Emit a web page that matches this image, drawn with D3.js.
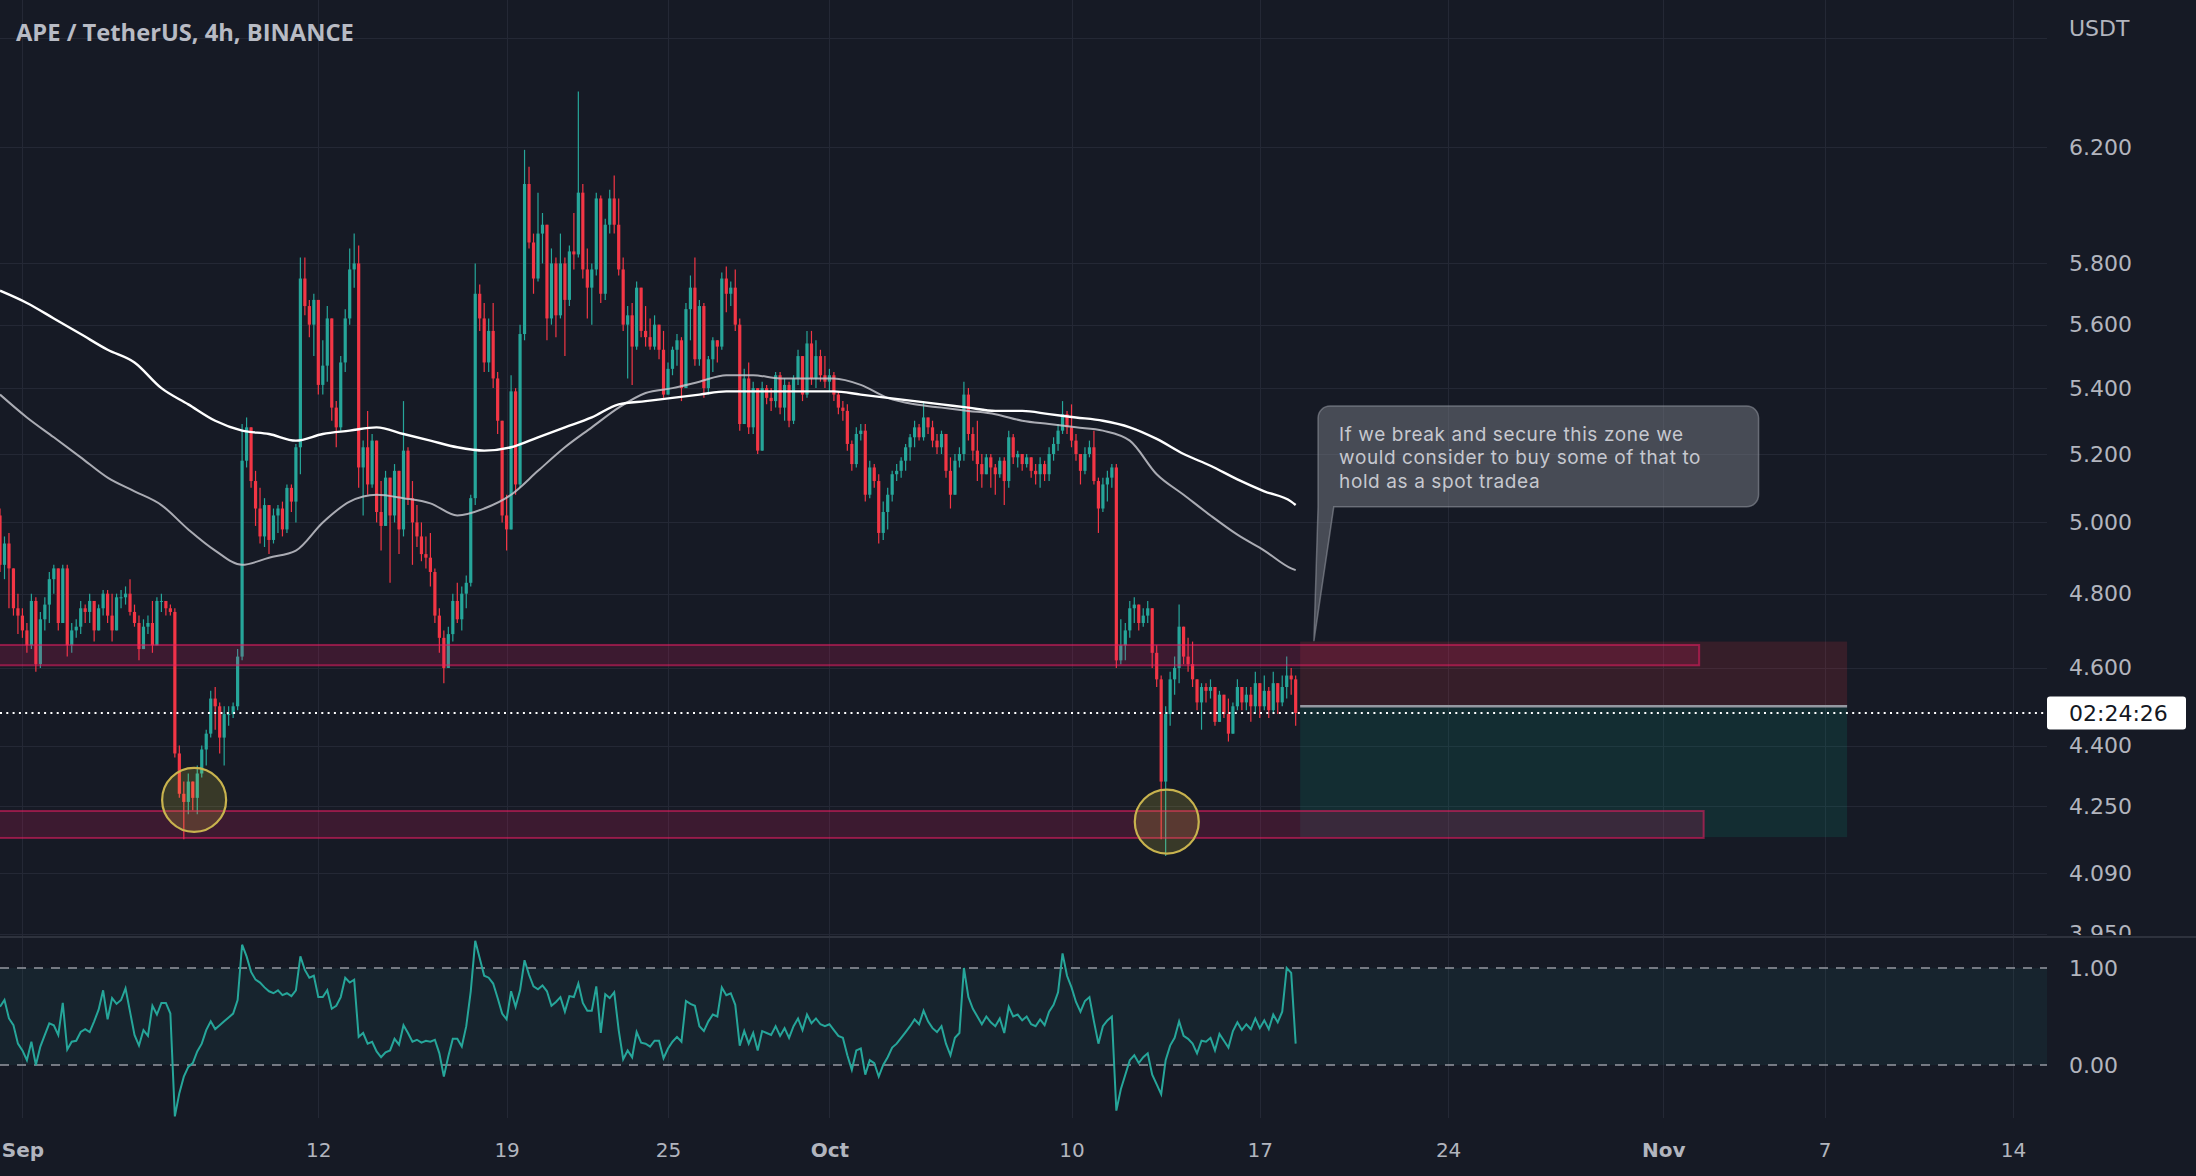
<!DOCTYPE html>
<html><head><meta charset="utf-8">
<script src="https://cdn.jsdelivr.net/npm/d3@7"></script>
<style>html,body{margin:0;padding:0;background:#161a25;overflow:hidden}</style>
</head><body>
<svg id="chart" width="2196" height="1176"></svg>
<script>
// ---------------- DATA ----------------
const chartTitle = "APE / TetherUS, 4h, BINANCE";
const currencyLabel = "USDT";
const countdownLabel = "02:24:26";
const firstCandleTime = Date.UTC(2022, 7, 31, 4);   // Aug 31 04:00, 4h candles
const candleHours = 4;
const firstOpen = 5.02;
const closes = [
4.88,4.94,4.87,4.76,4.74,4.70,4.66,4.78,4.61,4.73,
4.77,4.84,4.87,4.72,4.87,4.66,4.70,4.71,4.76,4.75,
4.78,4.70,4.76,4.80,4.74,4.70,4.79,4.79,4.80,4.75,
4.72,4.65,4.71,4.72,4.66,4.78,4.78,4.76,4.75,4.38,
4.28,4.26,4.31,4.27,4.33,4.39,4.43,4.52,4.50,4.42,
4.48,4.48,4.50,4.63,5.18,5.28,5.12,5.04,4.96,5.05,
4.95,5.02,5.04,4.98,5.10,5.06,5.22,5.75,5.66,5.60,
5.68,5.41,5.47,5.62,5.34,5.28,5.48,5.62,5.78,5.80,
5.16,5.22,5.11,5.24,5.03,4.99,5.13,5.02,5.15,4.98,
5.21,5.07,5.00,4.96,4.91,4.90,4.86,4.74,4.68,4.60,
4.69,4.78,4.73,4.80,4.83,5.07,5.70,5.62,5.48,5.58,
5.43,5.30,5.02,4.98,5.39,5.11,5.57,6.07,5.87,5.75,
5.90,5.93,5.62,5.80,5.63,5.80,5.68,5.84,5.83,6.04,
5.78,5.72,5.78,6.02,5.70,5.93,6.02,5.93,5.78,5.60,
5.63,5.53,5.72,5.58,5.56,5.53,5.60,5.52,5.38,5.46,
5.52,5.55,5.40,5.65,5.72,5.49,5.66,5.40,5.49,5.55,
5.53,5.75,5.70,5.72,5.60,5.29,5.43,5.28,5.40,5.21,
5.40,5.37,5.36,5.44,5.34,5.41,5.30,5.43,5.50,5.38,
5.54,5.43,5.50,5.44,5.42,5.44,5.38,5.34,5.33,5.23,
5.17,5.26,5.27,5.08,5.16,5.12,4.97,5.03,5.08,5.14,
5.15,5.18,5.22,5.25,5.28,5.25,5.31,5.28,5.24,5.22,
5.26,5.15,5.08,5.18,5.20,5.38,5.26,5.21,5.17,5.14,
5.19,5.16,5.14,5.18,5.12,5.25,5.19,5.20,5.17,5.19,
5.15,5.14,5.17,5.14,5.20,5.23,5.27,5.32,5.28,5.24,
5.20,5.15,5.20,5.22,5.12,5.04,5.11,5.13,5.16,4.62,
4.66,4.70,4.76,4.77,4.72,4.74,4.76,4.64,4.57,4.31,
4.48,4.57,4.60,4.71,4.63,4.61,4.57,4.51,4.55,4.54,
4.55,4.46,4.53,4.48,4.43,4.50,4.55,4.51,4.53,4.50,
4.56,4.50,4.54,4.49,4.56,4.51,4.55,4.58,4.57,4.483];
const highs = [
5.04,4.96,4.97,4.87,4.80,4.76,4.72,4.80,4.79,4.75,
4.79,4.86,4.88,4.87,4.88,4.88,4.72,4.73,4.78,4.77,
4.80,4.78,4.77,4.81,4.81,4.80,4.80,4.81,4.82,4.84,
4.77,4.74,4.73,4.74,4.78,4.79,4.80,4.78,4.77,4.76,
4.40,4.31,4.33,4.31,4.35,4.40,4.44,4.54,4.55,4.51,
4.50,4.50,4.51,4.65,5.29,5.31,5.28,5.15,5.10,5.07,
5.05,5.04,5.05,5.06,5.11,5.11,5.23,5.82,5.82,5.68,
5.70,5.68,5.55,5.66,5.62,5.36,5.50,5.65,5.85,5.90,
5.86,5.24,5.33,5.26,5.18,5.12,5.15,5.13,5.17,5.12,
5.36,5.22,5.12,5.05,5.00,4.96,4.97,4.87,4.76,4.70,
4.71,4.80,4.83,4.82,4.85,5.08,5.80,5.73,5.67,5.62,
5.67,5.45,5.30,5.08,5.44,5.40,5.60,6.19,6.13,5.90,
6.04,5.97,5.93,5.85,5.82,5.90,5.82,5.86,5.97,6.40,
6.07,5.85,5.80,6.04,6.03,5.95,6.05,6.10,6.02,5.82,
5.66,5.67,5.74,5.71,5.66,5.62,5.63,5.60,5.58,5.48,
5.53,5.57,5.56,5.67,5.76,5.82,5.68,5.67,5.50,5.56,
5.55,5.77,5.79,5.74,5.78,5.62,5.46,5.48,5.42,5.40,
5.42,5.41,5.40,5.45,5.45,5.43,5.42,5.44,5.52,5.50,
5.58,5.58,5.55,5.52,5.50,5.46,5.45,5.39,5.36,5.35,
5.24,5.28,5.29,5.29,5.18,5.17,5.14,5.06,5.10,5.15,
5.17,5.19,5.23,5.26,5.30,5.29,5.36,5.31,5.30,5.26,
5.27,5.25,5.19,5.20,5.22,5.42,5.40,5.28,5.30,5.20,
5.20,5.20,5.17,5.19,5.19,5.27,5.26,5.21,5.20,5.20,
5.19,5.17,5.19,5.18,5.22,5.25,5.29,5.36,5.33,5.35,
5.26,5.20,5.22,5.24,5.27,5.13,5.13,5.15,5.17,5.17,
4.73,4.72,4.78,4.79,4.77,4.76,4.78,4.76,4.66,4.58,
4.50,4.59,4.63,4.77,4.71,4.68,4.67,4.57,4.56,4.56,
4.57,4.54,4.54,4.53,4.52,4.51,4.57,4.55,4.55,4.55,
4.59,4.56,4.58,4.55,4.59,4.56,4.58,4.63,4.60,4.58];
const lows = [
4.86,4.84,4.76,4.74,4.69,4.68,4.64,4.65,4.59,4.60,
4.70,4.72,4.80,4.70,4.72,4.63,4.64,4.68,4.69,4.72,
4.72,4.67,4.70,4.74,4.72,4.67,4.70,4.76,4.77,4.74,
4.71,4.62,4.65,4.69,4.64,4.66,4.75,4.74,4.74,4.37,
4.27,4.17,4.23,4.24,4.23,4.32,4.35,4.42,4.44,4.38,
4.35,4.45,4.47,4.49,4.62,5.16,5.10,4.99,4.94,4.93,
4.91,4.94,4.97,4.96,4.97,5.03,5.00,5.14,5.63,5.56,
5.50,5.38,5.38,5.42,5.30,5.22,5.27,5.45,5.60,5.72,
5.10,5.02,5.08,5.10,5.00,4.92,5.00,4.83,5.00,4.91,
4.96,5.05,4.88,4.93,4.89,4.87,4.82,4.72,4.64,4.56,
4.60,4.67,4.72,4.70,4.76,4.82,5.05,5.58,5.45,5.45,
5.40,5.26,5.00,4.92,4.98,5.08,5.10,5.55,5.85,5.70,
5.74,5.80,5.55,5.60,5.56,5.62,5.50,5.66,5.78,5.82,
5.75,5.62,5.60,5.76,5.67,5.68,5.90,5.90,5.76,5.58,
5.43,5.41,5.52,5.56,5.53,5.52,5.52,5.49,5.37,5.38,
5.44,5.47,5.36,5.40,5.55,5.47,5.47,5.37,5.38,5.45,
5.48,5.52,5.64,5.66,5.58,5.27,5.29,5.26,5.26,5.20,
5.22,5.35,5.33,5.34,5.32,5.30,5.28,5.29,5.41,5.36,
5.37,5.41,5.40,5.42,5.40,5.39,5.36,5.32,5.30,5.21,
5.15,5.16,5.24,5.06,5.07,5.10,4.94,4.95,4.98,5.06,
5.12,5.13,5.15,5.18,5.22,5.24,5.24,5.26,5.22,5.20,
5.20,5.13,5.04,5.10,5.16,5.18,5.24,5.18,5.12,5.10,
5.14,5.10,5.08,5.13,5.05,5.10,5.17,5.16,5.15,5.16,
5.13,5.11,5.10,5.12,5.12,5.18,5.21,5.26,5.26,5.22,
5.18,5.11,5.14,5.19,5.11,4.97,5.03,5.06,5.10,4.60,
4.61,4.62,4.68,4.72,4.70,4.71,4.72,4.60,4.55,4.17,
4.13,4.45,4.53,4.56,4.61,4.59,4.55,4.49,4.44,4.51,
4.52,4.45,4.47,4.47,4.41,4.43,4.49,4.49,4.49,4.46,
4.48,4.47,4.49,4.47,4.48,4.48,4.50,4.52,4.53,4.45];
// moving averages, read at these candle indexes
const maIndex = [0,6,12,18,24,30,36,42,48,54,60,66,72,78,84,90,96,102,108,114,120,126,132,138,144,150,156,162,168,174,180,186,192,198,204,210,216,222,228,234,240,246,252,258,264,270,276,282,288,289];
const maWhite = [5.71,5.67,5.62,5.57,5.52,5.48,5.40,5.35,5.30,5.27,5.26,5.24,5.26,5.27,5.28,5.26,5.24,5.22,5.21,5.22,5.25,5.28,5.31,5.35,5.36,5.37,5.38,5.39,5.39,5.39,5.39,5.39,5.38,5.37,5.36,5.35,5.34,5.33,5.33,5.32,5.31,5.30,5.28,5.245,5.20,5.165,5.125,5.09,5.06,5.05];
const maGray = [5.38,5.31,5.25,5.19,5.13,5.09,5.05,4.98,4.92,4.88,4.90,4.92,5.00,5.06,5.08,5.07,5.055,5.02,5.04,5.08,5.15,5.22,5.28,5.34,5.385,5.40,5.42,5.44,5.44,5.43,5.43,5.43,5.41,5.37,5.35,5.34,5.33,5.32,5.30,5.29,5.28,5.27,5.24,5.14,5.08,5.02,4.965,4.92,4.87,4.865];
// lower-pane oscillator, one value per candle
const oscValues = [
0.60,0.67,0.48,0.41,0.22,0.15,0.05,0.24,0.00,0.19,
0.31,0.43,0.41,0.31,0.64,0.16,0.24,0.25,0.34,0.37,
0.34,0.45,0.57,0.77,0.47,0.69,0.63,0.67,0.79,0.55,
0.31,0.20,0.36,0.30,0.61,0.52,0.64,0.64,0.53,-0.53,
-0.29,-0.12,-0.02,0.02,0.14,0.22,0.36,0.45,0.37,0.41,
0.45,0.49,0.53,0.67,1.24,1.12,0.96,0.88,0.85,0.80,
0.76,0.74,0.77,0.72,0.74,0.71,0.77,1.12,0.98,0.90,
0.92,0.70,0.70,0.77,0.58,0.61,0.70,0.90,0.85,0.88,
0.29,0.33,0.22,0.24,0.14,0.08,0.13,0.15,0.27,0.21,
0.41,0.33,0.24,0.26,0.23,0.25,0.24,0.26,0.12,-0.12,
0.09,0.27,0.27,0.19,0.40,0.76,1.28,1.10,0.92,0.90,
0.84,0.69,0.53,0.47,0.76,0.60,0.77,1.08,0.93,0.81,
0.78,0.82,0.76,0.61,0.65,0.70,0.55,0.71,0.70,0.84,
0.64,0.56,0.56,0.81,0.33,0.73,0.69,0.75,0.36,0.06,
0.15,0.08,0.34,0.23,0.22,0.19,0.25,0.25,0.07,0.17,
0.24,0.29,0.24,0.66,0.63,0.61,0.40,0.35,0.45,0.52,
0.50,0.80,0.72,0.74,0.62,0.20,0.35,0.22,0.33,0.15,
0.35,0.33,0.31,0.40,0.30,0.38,0.28,0.40,0.48,0.36,
0.52,0.43,0.48,0.42,0.40,0.42,0.36,0.30,0.28,0.10,
-0.05,0.15,0.17,-0.10,0.05,0.02,-0.12,0.00,0.08,0.18,
0.22,0.28,0.34,0.40,0.47,0.42,0.56,0.45,0.38,0.34,
0.40,0.22,0.10,0.28,0.33,1.00,0.70,0.58,0.50,0.42,
0.50,0.44,0.40,0.48,0.33,0.60,0.50,0.52,0.46,0.50,
0.42,0.40,0.47,0.41,0.55,0.62,0.75,1.15,0.92,0.80,
0.65,0.55,0.66,0.70,0.45,0.22,0.40,0.46,0.50,-0.47,
-0.25,-0.10,0.05,0.10,0.02,0.08,0.12,-0.10,-0.20,-0.30,
0.05,0.20,0.28,0.45,0.30,0.27,0.22,0.12,0.25,0.24,
0.28,0.15,0.32,0.25,0.18,0.35,0.44,0.36,0.42,0.37,
0.48,0.38,0.46,0.37,0.52,0.44,0.55,1.00,0.95,0.22];
const oscLevels = [1, 0];
// axes
const priceTicks = [6.2, 5.8, 5.6, 5.4, 5.2, 5.0, 4.8, 4.6, 4.4, 4.25, 4.09, 3.95];
const priceGridExtra = [6.6];
const dateTicks = [
  {date: Date.UTC(2022,8,1),  label: "Sep", month: true},
  {date: Date.UTC(2022,8,12), label: "12"},
  {date: Date.UTC(2022,8,19), label: "19"},
  {date: Date.UTC(2022,8,25), label: "25"},
  {date: Date.UTC(2022,9,1),  label: "Oct", month: true},
  {date: Date.UTC(2022,9,10), label: "10"},
  {date: Date.UTC(2022,9,17), label: "17"},
  {date: Date.UTC(2022,9,24), label: "24"},
  {date: Date.UTC(2022,10,1), label: "Nov", month: true},
  {date: Date.UTC(2022,10,7), label: "7"},
  {date: Date.UTC(2022,10,14), label: "14"}];
// drawings
const zoneStarts = [Date.UTC(2022,7,28), Date.UTC(2022,7,28)];
const zoneEnds   = [Date.UTC(2022,10,2,8), Date.UTC(2022,10,2,12)];
const zoneLows   = [4.607, 4.173];
const zoneHighs  = [4.661, 4.238];
const positionStart = Date.UTC(2022,9,18,12);
const positionEnd   = Date.UTC(2022,10,7,20);
const positionStop = 4.67, positionEntry = 4.50, positionTarget = 4.175;
const circleTimes  = [Date.UTC(2022,8,7,9,12), Date.UTC(2022,9,13,13)];
const circlePrices = [4.265, 4.212];
const noteLines = ["If we break and secure this zone we", "would consider to buy some of that to", "hold as a spot tradea"];
const noteStart = Date.UTC(2022,9,19,4), noteEnd = Date.UTC(2022,10,4,13);
const noteTop = 5.345, noteBottom = 5.045;
const noteTailTime = Date.UTC(2022,9,19,0,15), noteTailPrice = 4.671;
const noteTailBaseEnd = Date.UTC(2022,9,19,18);

// ---------------- LAYOUT ----------------
const W = 2196, H = 1176, PR = 2047, MAIN_B = 936, OSC_T = 938, OSC_B = 1118;
const BG = "#161a25", GRID = "#242835", TXT = "#b2b5be";
const UP = "#26a69a", DOWN = "#f23645";
const AX_FONT = "'DejaVu Sans', Verdana, sans-serif";

const svg = d3.select("#chart");
const x = d3.scaleUtc().domain([new Date(Date.UTC(2022,7,31,4)), new Date(Date.UTC(2022,10,14))]).range([0, 2013]);
const y = d3.scaleLog().domain([3.945, 6.745]).range([MAIN_B, 0]);
const yo = d3.scaleLinear().domain([0, 1]).range([1065, 968]);
const tOf = i => new Date(firstCandleTime + i * candleHours * 3600e3);

svg.append("rect").attr("width", W).attr("height", H).attr("fill", BG);
const defs = svg.append("defs");
defs.append("clipPath").attr("id","mainClip").append("rect").attr("x",0).attr("y",0).attr("width",PR).attr("height",MAIN_B);
defs.append("clipPath").attr("id","oscClip").append("rect").attr("x",0).attr("y",OSC_T).attr("width",PR).attr("height",OSC_B-OSC_T);
defs.append("clipPath").attr("id","axisClip").append("rect").attr("x",PR).attr("y",0).attr("width",W-PR).attr("height",MAIN_B-1);

// grid
const grid = svg.append("g");
grid.selectAll(".hg").data(priceTicks.concat(priceGridExtra)).join("line")
  .attr("x1",0).attr("x2",PR).attr("y1",d=>Math.round(y(d))+0.5).attr("y2",d=>Math.round(y(d))+0.5)
  .attr("stroke",GRID).attr("stroke-width",1);
grid.selectAll(".vg").data(dateTicks).join("line")
  .attr("x1",d=>Math.round(x(new Date(d.date)))+0.5).attr("x2",d=>Math.round(x(new Date(d.date)))+0.5)
  .attr("y1",0).attr("y2",OSC_B).attr("stroke",GRID).attr("stroke-width",1);

// candles
const candles = closes.map((c,i)=>{
  const o = i===0 ? firstOpen : closes[i-1];
  return {t: tOf(i), o, c, h: Math.max(highs[i], o, c), l: Math.min(lows[i], o, c)};
});
const cg = svg.append("g").attr("clip-path","url(#mainClip)");
cg.selectAll(".wick").data(candles).join("line")
  .attr("x1",d=>x(d.t)).attr("x2",d=>x(d.t)).attr("y1",d=>y(d.h)).attr("y2",d=>y(d.l))
  .attr("stroke",d=>d.c>=d.o?UP:DOWN).attr("stroke-width",1.2);
cg.selectAll(".body").data(candles).join("rect")
  .attr("x",d=>x(d.t)-1.6).attr("width",3.2)
  .attr("y",d=>y(Math.max(d.o,d.c))).attr("height",d=>Math.max(1,Math.abs(y(d.o)-y(d.c))))
  .attr("fill",d=>d.c>=d.o?UP:DOWN);

// moving averages
const maLine = d3.line().x(d=>x(tOf(d[0]))).y(d=>y(d[1])).curve(d3.curveMonotoneX);
cg.append("path").attr("d", maLine(maIndex.map((k,j)=>[k, maGray[j]])))
  .attr("fill","none").attr("stroke","#c4c6cc").attr("stroke-width",2).attr("stroke-opacity",0.85);
cg.append("path").attr("d", maLine(maIndex.map((k,j)=>[k, maWhite[j]])))
  .attr("fill","none").attr("stroke","#ffffff").attr("stroke-width",2.4);

// zones
const dg = svg.append("g").attr("clip-path","url(#mainClip)");
dg.append("rect").attr("x",x(new Date(positionStart))).attr("width",x(new Date(positionEnd))-x(new Date(positionStart)))
  .attr("y",y(positionStop)).attr("height",y(positionEntry)-y(positionStop)).attr("fill","rgba(242,54,69,0.15)");
dg.append("rect").attr("x",x(new Date(positionStart))).attr("width",x(new Date(positionEnd))-x(new Date(positionStart)))
  .attr("y",y(positionEntry)).attr("height",y(positionTarget)-y(positionEntry)).attr("fill","rgba(8,153,129,0.15)");
zoneLows.forEach((lo,k)=>{
  dg.append("rect").attr("x",x(new Date(zoneStarts[k]))).attr("width",x(new Date(zoneEnds[k]))-x(new Date(zoneStarts[k])))
    .attr("y",y(zoneHighs[k])).attr("height",y(lo)-y(zoneHighs[k]))
    .attr("fill","rgba(233,30,99,0.18)").attr("stroke","rgba(233,30,99,0.55)").attr("stroke-width",2);
});
dg.append("line").attr("x1",x(new Date(positionStart))).attr("x2",x(new Date(positionEnd)))
  .attr("y1",y(positionEntry)).attr("y2",y(positionEntry)).attr("stroke","#9598a1").attr("stroke-width",2.5);

// circles
circleTimes.forEach((t,k)=>{
  dg.append("circle").attr("cx",x(new Date(t))).attr("cy",y(circlePrices[k])).attr("r",32)
    .attr("fill","rgba(255,235,59,0.15)").attr("stroke","#c8b34e").attr("stroke-width",2.2);
});

// callout
{
  const L = x(new Date(noteStart)), R = x(new Date(noteEnd)), T = y(noteTop), B = y(noteBottom), r = 12;
  const tx = x(new Date(noteTailTime)), ty = y(noteTailPrice), bx = x(new Date(noteTailBaseEnd));
  const p = `M${L+r},${T} H${R-r} A${r},${r} 0 0 1 ${R},${T+r} V${B-r} A${r},${r} 0 0 1 ${R-r},${B} H${bx} L${tx},${ty} L${L},${B} V${T+r} A${r},${r} 0 0 1 ${L+r},${T} Z`;
  svg.append("path").attr("d",p).attr("fill","rgba(120,123,134,0.5)").attr("stroke","rgba(150,153,162,0.55)").attr("stroke-width",1.5);
  svg.append("g").selectAll("text").data(noteLines).join("text")
    .attr("x",L+21).attr("y",(d,i)=>T+35+i*23.4).text(d=>d)
    .attr("fill","#c6c8cf").attr("font-family","Inter, Roboto, sans-serif").attr("font-size",19)
    .attr("letter-spacing",0.6);
}

// current price dotted line
const lastPrice = closes[closes.length-1];
svg.append("line").attr("x1",0).attr("x2",PR).attr("y1",y(lastPrice)).attr("y2",y(lastPrice))
  .attr("stroke","#ffffff").attr("stroke-width",2).attr("stroke-dasharray","2,4.3");

// separator
svg.append("line").attr("x1",0).attr("x2",W).attr("y1",MAIN_B+1).attr("y2",MAIN_B+1).attr("stroke","#2e323d").attr("stroke-width",2);

// oscillator pane
const og = svg.append("g").attr("clip-path","url(#oscClip)");
og.append("rect").attr("x",0).attr("width",PR).attr("y",yo(1)).attr("height",yo(0)-yo(1)).attr("fill","rgba(38,166,154,0.08)");
og.selectAll(".lvl").data(oscLevels).join("line").attr("x1",0).attr("x2",PR).attr("y1",d=>yo(d)).attr("y2",d=>yo(d))
  .attr("stroke","#9598a1").attr("stroke-width",1.6).attr("stroke-dasharray","9,8");
og.append("path").attr("d", d3.line().x((d,i)=>x(tOf(i))).y(d=>yo(d))(oscValues))
  .attr("fill","none").attr("stroke","#26a69a").attr("stroke-width",2);

// price axis (clip group is untransformed so the clip rect is in page coordinates)
const pa = svg.append("g").attr("clip-path","url(#axisClip)").append("g").attr("transform",`translate(${PR},0)`)
  .call(d3.axisRight(y).tickValues(priceTicks).tickFormat(d3.format(".3f")).tickSize(0).tickPadding(22));
pa.select(".domain").remove();
pa.selectAll("text").attr("fill",TXT).attr("font-family",AX_FONT).attr("font-size",22);

const oa = svg.append("g").attr("transform",`translate(${PR},0)`)
  .call(d3.axisRight(yo).tickValues(oscLevels).tickFormat(d3.format(".2f")).tickSize(0).tickPadding(22));
oa.select(".domain").remove();
oa.selectAll("text").attr("fill",TXT).attr("font-family",AX_FONT).attr("font-size",22);

// time axis
const ta = svg.append("g").attr("transform",`translate(0,${OSC_B})`)
  .call(d3.axisBottom(x).tickValues(dateTicks.map(d=>new Date(d.date))).tickSize(0).tickPadding(25)
    .tickFormat((d,i)=>dateTicks[i].label));
ta.select(".domain").remove();
ta.selectAll("text").attr("fill",TXT).attr("font-family",AX_FONT).attr("font-size",20)
  .attr("font-weight",(d,i)=>dateTicks[i].month?"bold":"normal");

// currency label & countdown label
svg.append("text").attr("x",2069).attr("y",36).text(currencyLabel).attr("fill",TXT).attr("font-family",AX_FONT).attr("font-size",22);
svg.append("rect").attr("x",PR).attr("y",y(lastPrice)-16.5).attr("width",139).attr("height",33).attr("rx",3).attr("fill","#ffffff");
svg.append("text").attr("x",2069).attr("y",y(lastPrice)).attr("dy","0.36em").text(countdownLabel)
  .attr("fill","#131722").attr("font-family",AX_FONT).attr("font-size",22);

// title
svg.append("text").attr("x",16).attr("y",41).text(chartTitle).attr("fill","#b8bbc4")
  .attr("font-family","'Open Sans', sans-serif").attr("font-weight",700).attr("font-size",23.7);
</script>
</body></html>
